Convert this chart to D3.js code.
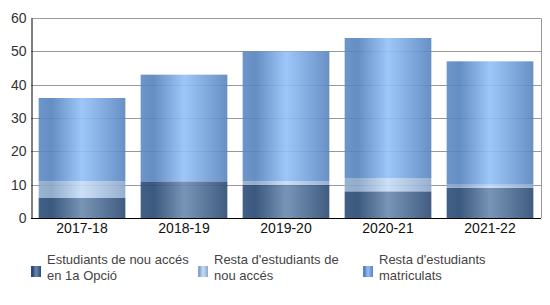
<!DOCTYPE html>
<html><head><meta charset="utf-8">
<script src="https://cdn.jsdelivr.net/npm/d3@7"></script>
<style>body{margin:0;background:#fff}svg{display:block;font-family:"Liberation Sans",Arial,sans-serif}</style>
</head><body><svg id="c" width="550" height="305"></svg>
<script>
const categories = ["2017-18","2018-19","2019-20","2020-21","2021-22"];
const seriesNames = ["Estudiants de nou accés en 1a Opció","Resta d'estudiants de nou accés","Resta d'estudiants matriculats"];
const primeraOpcio = [6, 11, 10, 8, 9];
const restaNouAcces = [5, 0, 1, 4, 1];
const restaMatriculats = [25, 32, 39, 42, 37];
const yTicks = [0,10,20,30,40,50,60];
const legendLines = [["Estudiants de nou accés","en 1a Opció"],["Resta d'estudiants de","nou accés"],["Resta d'estudiants","matriculats"]];

const svg = d3.select("#c");
const m = {l:31, r:9, t:18, b:87};
const W = 550, H = 305;
const x = d3.scaleBand().domain(categories).range([m.l, W-m.r]).paddingInner(0.15).paddingOuter(0.075);
const y = d3.scaleLinear().domain([0,60]).range([H-m.b, m.t]);

const grads = [
  {id:"g0", stops:[["0%","#2e507b"],["15%","#264770"],["50%","#6a89ae"],["100%","#2b4a73"]]},
  {id:"g1", stops:[["0%","#8fabcd"],["15%","#86a3c6"],["50%","#c6ddf6"],["100%","#8aa7ca"]]},
  {id:"g2", stops:[["0%","#5d8ac4"],["15%","#5582bd"],["50%","#93c0f8"],["100%","#5784bf"]]}
];
const defs = svg.append("defs");
grads.forEach(g => {
  const lg = defs.append("linearGradient").attr("id", g.id).attr("x1","0").attr("x2","1").attr("y1","0").attr("y2","0");
  g.stops.forEach(s => lg.append("stop").attr("offset", s[0]).attr("stop-color", s[1]));
});

// gridlines
svg.append("g").selectAll("line").data(yTicks.filter(d=>d>0)).join("line")
  .attr("x1", m.l).attr("x2", W-m.r).attr("y1", d=>Math.round(y(d))+0.5).attr("y2", d=>Math.round(y(d))+0.5)
  .attr("stroke","#999").attr("stroke-width",1);
svg.append("line").attr("x1", W-m.r+0.5).attr("x2", W-m.r+0.5).attr("y1", Math.round(y(60))+0.5).attr("y2", y(0))
  .attr("stroke","#999");

const data = categories.map((c,i)=>({cat:c, s0:primeraOpcio[i], s1:restaNouAcces[i], s2:restaMatriculats[i]}));
const stack = d3.stack().keys(["s0","s1","s2"])(data);
svg.append("g").selectAll("g").data(stack).join("g")
  .attr("fill",(d,i)=>`url(#g${i})`).attr("fill-opacity",0.9)
  .selectAll("rect").data(d=>d).join("rect")
  .attr("x", d=>x(d.data.cat)).attr("width", x.bandwidth())
  .attr("y", d=>y(d[1])).attr("height", d=>y(d[0])-y(d[1]));

// axes
const yAxis = svg.append("g").attr("transform",`translate(${m.l+0.5},0)`)
  .call(d3.axisLeft(y).tickValues(yTicks).tickSize(0).tickPadding(5));
yAxis.select(".domain").attr("stroke","#000");
yAxis.selectAll("text").attr("font-size",14).attr("fill","#333").attr("font-family","Liberation Sans, Arial, sans-serif");
const xAxis = svg.append("g").attr("transform",`translate(0,${y(0)+0.5})`)
  .call(d3.axisBottom(x).tickSize(0).tickPadding(5));
xAxis.select(".domain").attr("stroke","#000").attr("d", `M${m.l},0H${W-m.r}`);
xAxis.selectAll("text").attr("font-size",14).attr("fill","#111").attr("font-family","Liberation Sans, Arial, sans-serif");

// legend
const lx = [31, 198, 363];
const lg = svg.append("g");
legendLines.forEach((lines,i)=>{
  const g = lg.append("g").attr("transform",`translate(${lx[i]},0)`);
  g.append("rect").attr("x",0).attr("y",266).attr("width",10).attr("height",11).attr("fill",`url(#g${i})`);
  lines.forEach((t,j)=>{
    g.append("text").attr("x",16).attr("y",264+j*15.5).attr("font-size",13).attr("fill","#444").text(t);
  });
});
</script></body></html>
